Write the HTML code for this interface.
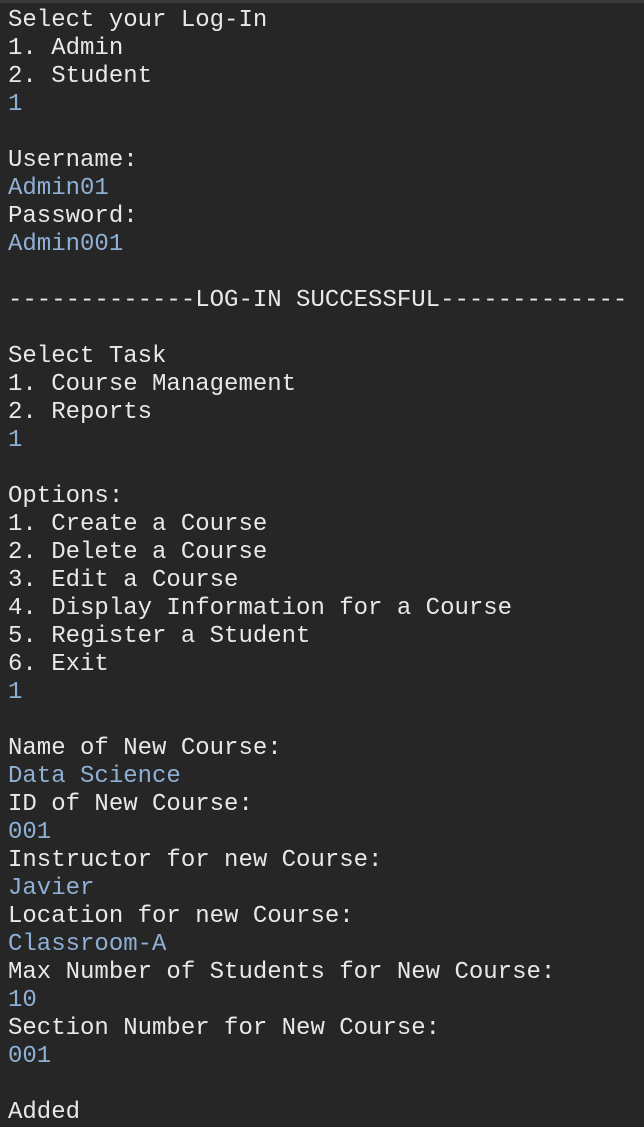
<!DOCTYPE html>
<html><head><meta charset="utf-8"><style>
html,body{margin:0;padding:0;background:#262626;}
body{width:644px;height:1126px;overflow:hidden;border-top:3px solid #3b3b3b;box-sizing:border-box;position:relative;}
pre{margin:0;position:absolute;left:8px;top:4px;font-family:"Liberation Mono",monospace;font-size:24px;line-height:28px;color:#e8e8e8;white-space:pre;}
.i{color:#8fb0d6;}
</style></head><body><pre>Select your Log-In
1. Admin
2. Student
<span class="i">1</span>

Username:
<span class="i">Admin01</span>
Password:
<span class="i">Admin001</span>

-------------LOG-IN SUCCESSFUL-------------

Select Task
1. Course Management
2. Reports
<span class="i">1</span>

Options:
1. Create a Course
2. Delete a Course
3. Edit a Course
4. Display Information for a Course
5. Register a Student
6. Exit
<span class="i">1</span>

Name of New Course:
<span class="i">Data Science</span>
ID of New Course:
<span class="i">001</span>
Instructor for new Course:
<span class="i">Javier</span>
Location for new Course:
<span class="i">Classroom-A</span>
Max Number of Students for New Course:
<span class="i">10</span>
Section Number for New Course:
<span class="i">001</span>

Added</pre></body></html>
